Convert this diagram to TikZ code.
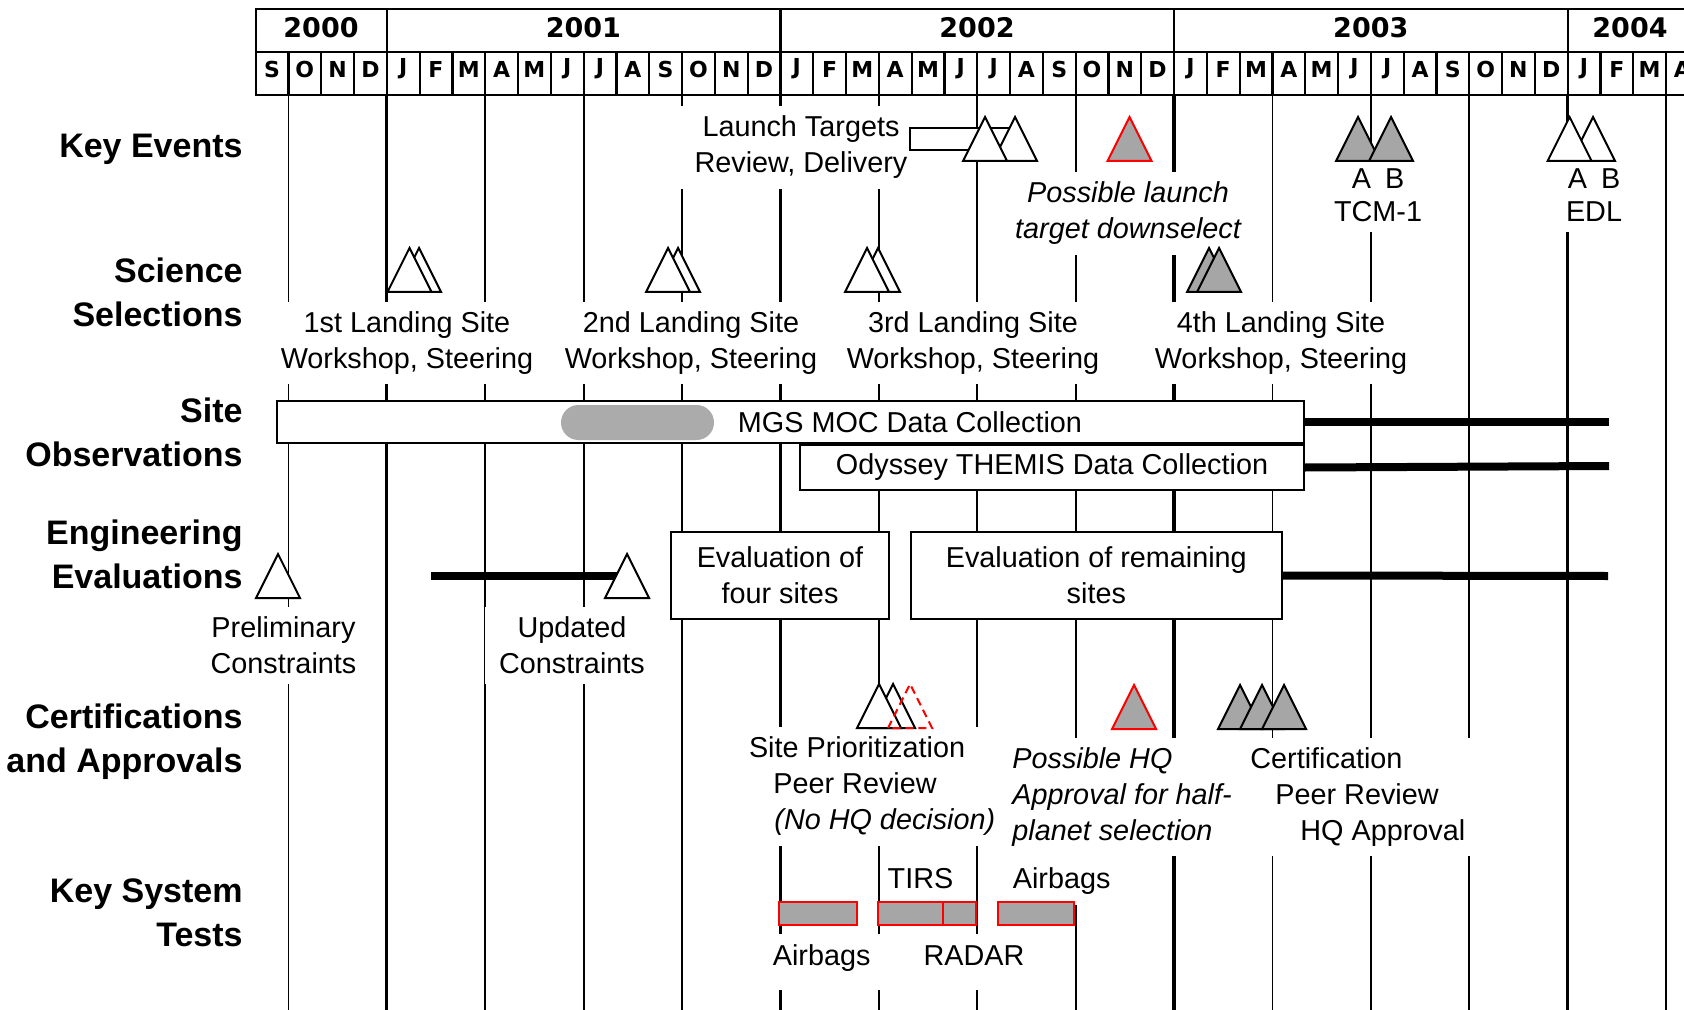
\documentclass[tikz,border=0pt]{standalone}
\usepackage{fontspec}
\setmainfont{Liberation Sans}
\newfontfamily\headfont{DejaVu Sans}

\begin{document}
\begin{tikzpicture}[
            x=0.5pt, y=-0.5pt,
            rowlabel/.style ={anchor=east, align=right, inner sep=0pt,
                              font=\fontsize{17}{22}\selectfont\bfseries},
            yearlabel/.style={font=\headfont\bfseries\fontsize{13.5}{15}\selectfont},
            monthlabel/.style={font=\headfont\bfseries\fontsize{11}{12}\selectfont},
            note/.style     ={fill=white, align=center, inner xsep=7pt, inner ysep=5pt,
                              font=\fontsize{14.4}{18}\selectfont},
            inote/.style    ={note, font=\fontsize{14.4}{18}\selectfont\itshape},
            lownote/.style  ={note, anchor=base, text height=10.5pt, text depth=7.5pt},
            hdrline/.style  ={line width=1.1pt},
            gridline/.style ={line width=0.9pt},
            yearline/.style ={line width=1.6pt},
            obsbox/.style   ={draw, fill=white, line width=1pt, inner sep=0pt,
                              font=\fontsize{14.4}{18}\selectfont},
            evalbox/.style  ={draw, fill=white, line width=1pt, align=center,
                              font=\fontsize{14.4}{18}\selectfont},
            obsbar/.style   ={line width=4pt},
            wtri/.style     ={draw=black, fill=white, line width=1pt},
            gtri/.style     ={draw=black, fill=black!35, line width=1pt},
            rtri/.style     ={draw=red, fill=black!35, line width=1pt},
            dtri/.style     ={draw=red, line width=1pt, dash pattern=on 4pt off 2.5pt},
            testbar/.style  ={draw=red, fill=black!35, line width=1pt}
        ]
        \useasboundingbox (0,0) rectangle (1684,1010);
        \clip (0,0) rectangle (1684,1010);

        \draw[hdrline] (1684,9) -- (255.6,9) -- (255.6,95) -- (1684,95);
        \draw[hdrline] (255.6,52) -- (1684,52);
        \foreach \i in {1,...,43}
            \draw[hdrline] ({255.6+32.8*\i},52) -- ({255.6+32.8*\i},95);
        \foreach \i in {4,16,28,40}
            \draw[hdrline] ({255.6+32.8*\i},9) -- ({255.6+32.8*\i},52);

        \node[yearlabel] (y2000) at (321,27.5) {2000};
        \node[yearlabel] (y2001) at (583.4,27.5) {2001};
        \node[yearlabel] (y2002) at (977,27.5) {2002};
        \node[yearlabel] (y2003) at (1370.8,27.5) {2003};
        \node[yearlabel] (y2004) at (1630,27.5) {2004};
        \foreach \m [count=\i from 0] in {S,O,N,D,J,F,M,A,M,J,J,A,S,O,N,D,J,F,M,A,M,J,J,A,S,O,N,D,J,F,M,A,M,J,J,A,S,O,N,D,J,F,M,A}
            \node[monthlabel] (m\i) at ({255.6+32.8*(\i+0.5)},69) {\m};

        \foreach \i in {1,7,10,13,19,22,25,31,34,37,43}
            \draw[gridline] ({255.6+32.8*\i},95) -- ({255.6+32.8*\i},1010);
        \foreach \i in {4,16,28,40}
            \draw[yearline] ({255.6+32.8*\i},95) -- ({255.6+32.8*\i},1010);

        \node[rowlabel] (events)   at (243,149.5) {Key Events};
        \node[rowlabel] (science)  at (243,292.5) {Science\\Selections};
        \node[rowlabel] (siteobs)  at (243,432.5) {Site\\Observations};
        \node[rowlabel] (engeval)  at (243,554.5) {Engineering\\Evaluations};
        \node[rowlabel] (certs)    at (243,742)   {Certifications\\and Approvals};
        \node[rowlabel] (systests) at (243,912.5) {Key System\\Tests};

        \node[note]  (launch)  at (801,147.5)  {Launch Targets\\Review, Delivery};
        \node[inote] (downsel) at (1128,213.5) {Possible launch\\target downselect};
        \node[note, font=\fontsize{14.4}{16.5}\selectfont] (tcm) at (1378,195.5) {A\hspace{7pt}B\\TCM-1};
        \node[note, font=\fontsize{14.4}{16.5}\selectfont] (edl) at (1594,195.5) {A\hspace{7pt}B\\EDL};

        \node[note] (site1) at (407,343)  {1st Landing Site\\Workshop, Steering};
        \node[note] (site2) at (691,343)  {2nd Landing Site\\Workshop, Steering};
        \node[note] (site3) at (973,343)  {3rd Landing Site\\Workshop, Steering};
        \node[note] (site4) at (1281,343) {4th Landing Site\\Workshop, Steering};

        \node[note] (prelim)  at (283.5,645.5) {Preliminary\\Constraints};
        \node[note] (updated) at (572,645.5)   {Updated\\Constraints};

        \node[note, align=left, anchor=west] (prio) at (734.6,786.5)
            {Site Prioritization\\\hspace*{12.2pt}Peer Review\\\hspace*{12.7pt}\textit{(No HQ decision)}};
        \node[inote, align=left, anchor=west] (hqposs) at (998,797)
            {Possible HQ\\Approval for half-\\planet selection};
        \node[note, align=left, anchor=west] (certpeer) at (1236,797)
            {Certification\\\hspace*{12.5pt}Peer Review\\\hspace*{25pt}HQ Approval};

        \node[note, inner xsep=2pt]  (tirs)     at (920.5,878.5) {TIRS};
        \node[note, anchor=base, text height=15pt, text depth=3pt] (airbags2) at (1061.7,888.5) {Airbags};
        \node[lownote] (airbags1) at (821.7,965) {Airbags};
        \node[lownote] (radar)    at (974,965)   {RADAR};

        \node[obsbox, minimum width=513.5pt, minimum height=21pt] (mgs) at (790.5,422) {};
        \fill[black!33, rounded corners=8.7pt] (561,405) rectangle (714,440);
        \node[font=\fontsize{14.4}{18}\selectfont] (mgstext) at (910,422) {MGS MOC Data Collection};
        \node[obsbox, minimum width=252pt, minimum height=22.5pt, anchor=north east] (ody)
            at (mgs.south east) {Odyssey THEMIS Data Collection};
        \coordinate (mgsend) at (1609,422);
        \coordinate (odyend) at (1609,466);
        \draw[obsbar] (mgs.east) -- (mgsend);
        \draw[obsbar] (ody.east) -- (odyend);

        \node[evalbox, minimum width=109pt, minimum height=43.5pt]   (evalfour) at (780,575.5)    {Evaluation of\\four sites};
        \node[evalbox, minimum width=185.5pt, minimum height=43.5pt] (evalrest) at (1096.3,575.5) {Evaluation of remaining\\sites};
        \coordinate (engstart) at (431,576);
        \coordinate (engend)   at (618,576);
        \coordinate (evalend)  at (1608,576);
        \draw[obsbar] (engstart) -- (engend);
        \draw[obsbar] (evalrest.east) -- (evalend);

        \draw[wtri] (910,128) rectangle (1010,150);
        \foreach \x/\y/\s in {1015/161/wtri, 985/161/wtri, 1129.5/161/rtri, 1358/161/gtri, 1391/161/gtri,
                              1593/161/wtri, 1569.6/161/wtri,
                              419/292/wtri, 409.5/292/wtri, 678/292/wtri, 668/292/wtri, 878/292/wtri, 867/292/wtri,
                              1209/292/gtri, 1219/292/gtri,
                              278/598/wtri, 627/598/wtri,
                              893/728/wtri, 879/728/wtri, 910/728/dtri, 1134/729/rtri,
                              1240/729/gtri, 1262/729/gtri, 1284/729/gtri}
            \draw[\s] (\x,\y) ++(-22,0) -- ++(22,-44) -- ++(22,44) -- cycle;

        \foreach \a/\b in {779.3/856.7, 878.3/942.7, 942.7/976, 997.7/1074}
            \draw[testbar] (\a,902.3) rectangle (\b,925);
        \end{tikzpicture}
\end{document}
